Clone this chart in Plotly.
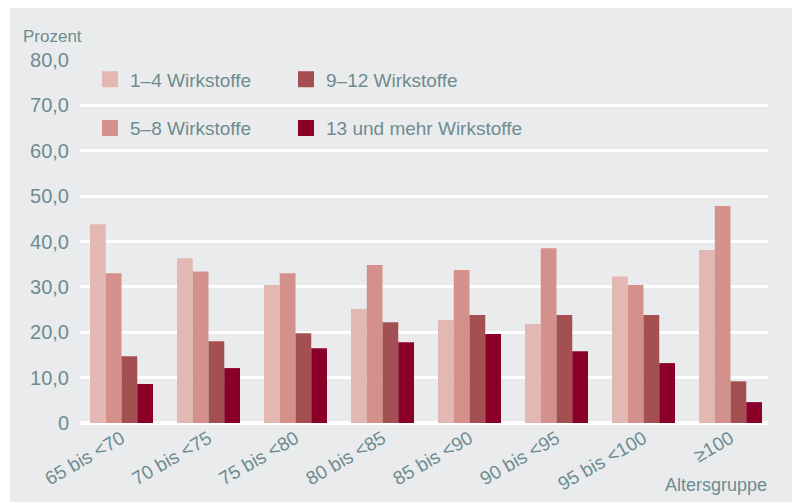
import plotly.graph_objects as go

categories = ["65 bis <70", "70 bis <75", "75 bis <80", "80 bis <85",
              "85 bis <90", "90 bis <95", "95 bis <100", "≥100"]
series_names = ["1–4 Wirkstoffe", "5–8 Wirkstoffe", "9–12 Wirkstoffe", "13 und mehr Wirkstoffe"]
s1_4 = [43.8, 36.3, 30.4, 25.1, 22.7, 21.8, 32.3, 38.1]
s5_8 = [33.0, 33.4, 33.0, 34.8, 33.7, 38.5, 30.4, 47.8]
s9_12 = [14.7, 18.0, 19.8, 22.2, 23.8, 23.8, 23.8, 9.2]
s13 = [8.6, 12.1, 16.5, 17.8, 19.6, 15.8, 13.2, 4.6]
colors = ["#E4B8B2", "#D4918C", "#A45052", "#8B0028"]
tick_vals = [0, 10, 20, 30, 40, 50, 60, 70, 80]
tick_text = ["0", "10,0", "20,0", "30,0", "40,0", "50,0", "60,0", "70,0", "80,0"]

TXT = "#6E8C91"
BG = "#EAEBEC"
FONT = "Liberation Sans, Arial, sans-serif"

fig = go.Figure()
values = [s1_4, s5_8, s9_12, s13]
legends = ["legend", "legend", "legend2", "legend2"]
for i, (name, vals) in enumerate(zip(series_names, values)):
    fig.add_trace(go.Bar(
        x=categories, y=vals, name=name,
        marker=dict(color=colors[i], line=dict(width=0)),
        legendgroup=name, showlegend=False,
        hoverinfo="x+y+name",
    ))

# legend-only entries on a hidden overlay axis (bigger legend swatches)
for i, name in enumerate(series_names):
    fig.add_trace(go.Bar(
        x=[categories[0]], y=[0], name=name,
        marker=dict(color=colors[i], line=dict(width=4, color=colors[i])),
        legend=legends[i], legendgroup=name, showlegend=True,
        xaxis="x2", yaxis="y2", hoverinfo="skip",
    ))

# page is offset by the 8px body margin
OFF = 8
L, R, T, B = 80 - OFF, 32, 59.5 - OFF, 79
W, H = 800 - OFF, 502 - OFF
pw = W - L - R
ph = H - T - B

def px_x(x):
    return (x - OFF - L) / pw

def px_y(y):
    return (H - B - (y - OFF)) / ph

fig.add_shape(type="rect", xref="paper", yref="paper",
              x0=px_x(0), x1=px_x(10), y0=px_y(0), y1=px_y(510),
              fillcolor="white", line=dict(width=0), layer="below")

fig.add_annotation(text="Prozent", xref="paper", yref="paper",
                   x=px_x(21), y=px_y(36), xanchor="left", yanchor="middle",
                   showarrow=False, font=dict(size=17, color=TXT, family=FONT))
fig.add_annotation(text="Altersgruppe", xref="paper", yref="paper",
                   x=px_x(769), y=px_y(485), xanchor="right", yanchor="middle",
                   showarrow=False, font=dict(size=18, color=TXT, family=FONT))

legend_common = dict(
    orientation="v", bgcolor="rgba(0,0,0,0)", borderwidth=0,
    font=dict(size=19, color=TXT, family=FONT),
    tracegroupgap=21, itemclick=False, itemdoubleclick=False,
    xanchor="left", yanchor="top",
)

fig.update_layout(
    width=W, height=H,
    margin=dict(l=L, r=R, t=T, b=B, pad=0),
    paper_bgcolor=BG, plot_bgcolor=BG,
    barmode="group", bargap=0.276, bargroupgap=0,
    font=dict(family=FONT, color=TXT),
    legend=dict(x=px_x(90), y=px_y(60), **legend_common),
    legend2=dict(x=px_x(286), y=px_y(60), **legend_common),
    xaxis=dict(
        range=[-0.477, 7.431], showgrid=False, showline=False, zeroline=False,
        tickangle=-30, tickfont=dict(size=19, color=TXT, family=FONT),
        ticks="", fixedrange=True, automargin=False,
    ),
    yaxis=dict(
        range=[0, 80], tickvals=tick_vals, ticktext=tick_text,
        showgrid=True, gridcolor="white", gridwidth=3,
        zeroline=True, zerolinecolor="white", zerolinewidth=4,
        showline=False, ticks="", ticklabelstandoff=10,
        tickfont=dict(size=20, color=TXT, family=FONT), fixedrange=True,
        automargin=False,
    ),
    xaxis2=dict(overlaying="x", visible=False, fixedrange=True),
    yaxis2=dict(overlaying="y", visible=False, range=[10, 20], fixedrange=True),
    showlegend=True,
)

fig.write_html("out.html")
